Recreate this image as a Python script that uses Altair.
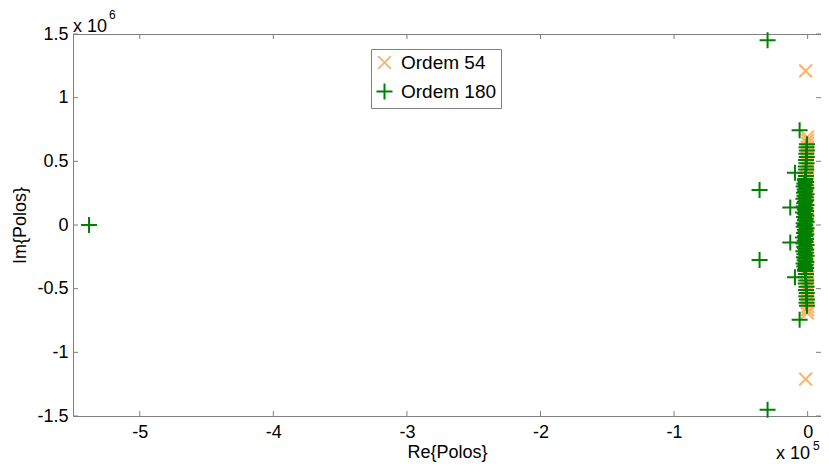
import altair as alt
import pandas as pd

# Units: real part in 1e5, imaginary part in 1e6
re54 = [-0.015, -0.002, -0.001, 0.0, -0.003, -0.001, -0.002, 0.0, -0.001, -0.003, -0.002, 0.0, -0.001,
        -0.002, -0.003, -0.001, 0.0, -0.002, -0.001, -0.003, -0.002, 0.0, -0.001, -0.002, -0.001,
        -0.015, -0.002, -0.001, 0.0, -0.003, -0.001, -0.002, 0.0, -0.001, -0.003, -0.002, 0.0, -0.001,
        -0.002, -0.003, -0.001, 0.0, -0.002, -0.001, -0.003, -0.002, 0.0, -0.001, -0.002, -0.001,
        -0.004, -0.001]
im54 = [1.21, 0.69, 0.665, 0.64, 0.612, 0.585, 0.556, 0.527, 0.498, 0.47, 0.44, 0.41, 0.38,
        0.35, 0.32, 0.29, 0.26, 0.23, 0.2, 0.17, 0.14, 0.11, 0.08, 0.05, 0.02,
        -1.21, -0.69, -0.665, -0.64, -0.612, -0.585, -0.556, -0.527, -0.498, -0.47, -0.44, -0.41, -0.38,
        -0.35, -0.32, -0.29, -0.26, -0.23, -0.2, -0.17, -0.14, -0.11, -0.08, -0.05, -0.02,
        0.0, 0.0]

re180 = [-5.38, -0.30, -0.30, -0.36, -0.36, -0.06, -0.06, -0.095, -0.095, -0.13, -0.13,
         -0.005, -0.008, -0.006, -0.01, -0.007, -0.012, -0.009, -0.014, -0.011, -0.016, -0.013, -0.018,
         -0.02, -0.012, -0.025, -0.015, -0.03, -0.01, -0.022, -0.018, -0.028, -0.008, -0.024, -0.014,
         -0.032, -0.011, -0.02, -0.026, -0.009, -0.03, -0.016, -0.022, -0.012, -0.035, -0.018, -0.01,
         -0.027, -0.015, -0.021, -0.008, -0.03, -0.02,
         -0.005, -0.008, -0.006, -0.01, -0.007, -0.012, -0.009, -0.014, -0.011, -0.016, -0.013, -0.018,
         -0.02, -0.012, -0.025, -0.015, -0.03, -0.01, -0.022, -0.018, -0.028, -0.008, -0.024, -0.014,
         -0.032, -0.011, -0.02, -0.026, -0.009, -0.03, -0.016, -0.022, -0.012, -0.035, -0.018, -0.01,
         -0.027, -0.015, -0.021, -0.008, -0.03, -0.02]
im180 = [0.0, 1.45, -1.45, 0.275, -0.275, 0.745, -0.745, 0.41, -0.41, 0.137, -0.137,
         0.635, 0.61, 0.585, 0.56, 0.535, 0.51, 0.485, 0.46, 0.435, 0.41, 0.385, 0.362,
         0.35, 0.338, 0.326, 0.314, 0.302, 0.29, 0.278, 0.266, 0.254, 0.242, 0.23, 0.218,
         0.206, 0.194, 0.182, 0.17, 0.158, 0.146, 0.134, 0.122, 0.11, 0.098, 0.086, 0.074,
         0.062, 0.05, 0.038, 0.026, 0.014, 0.003,
         -0.635, -0.61, -0.585, -0.56, -0.535, -0.51, -0.485, -0.46, -0.435, -0.41, -0.385, -0.362,
         -0.35, -0.338, -0.326, -0.314, -0.302, -0.29, -0.278, -0.266, -0.254, -0.242, -0.23, -0.218,
         -0.206, -0.194, -0.182, -0.17, -0.158, -0.146, -0.134, -0.122, -0.11, -0.098, -0.086, -0.074,
         -0.062, -0.05, -0.038, -0.026, -0.014, -0.003]

series = ["Ordem 54", "Ordem 180"]
colors = ["#FFB366", "#008000"]
x_ticks = [-5, -4, -3, -2, -1, 0]
y_ticks = [-1.5, -1, -0.5, 0, 0.5, 1, 1.5]

XPATH = "M-0.8,-0.8L0.8,0.8M-0.8,0.8L0.8,-0.8"
PLUSPATH = "M-1,0L1,0M0,-1L0,1"

df = pd.concat([
    pd.DataFrame({"re": re54, "im": im54, "s": series[0]}),
    pd.DataFrame({"re": re180, "im": im180, "s": series[1]}),
], ignore_index=True)

W, H = 748, 382
FONT = "Liberation Sans"
GRAY = "#7f7f7f"

xscale = alt.Scale(domain=[-5.5, 0.1], nice=False, zero=False)
yscale = alt.Scale(domain=[-1.5, 1.5], nice=False, zero=False)
xaxis = alt.Axis(values=x_ticks, title="Re{Polos}", labelExpr="toString(datum.value)",
                 labelPadding=7, titlePadding=2)
yaxis = alt.Axis(values=y_ticks, title="Im{Polos}", labelExpr="toString(datum.value)",
                 labelPadding=5, titlePadding=7)

points = alt.Chart(df).mark_point(filled=False, opacity=1, strokeWidth=2, size=256).encode(
    x=alt.X("re:Q", scale=xscale, axis=xaxis),
    y=alt.Y("im:Q", scale=yscale, axis=yaxis),
    color=alt.Color("s:N", scale=alt.Scale(domain=series, range=colors), title=None),
    shape=alt.Shape("s:N", scale=alt.Scale(domain=series, range=[XPATH, PLUSPATH]), title=None),
)

xt = pd.DataFrame({"re": x_ticks})
yt = pd.DataFrame({"im": y_ticks})
tick_b = alt.Chart(xt).mark_rule(color=GRAY).encode(x=alt.X("re:Q", scale=xscale, axis=xaxis),
                                                    y=alt.value(H), y2=alt.value(H - 5))
tick_t = alt.Chart(xt).mark_rule(color=GRAY).encode(x=alt.X("re:Q", scale=xscale, axis=xaxis),
                                                    y=alt.value(0), y2=alt.value(5))
tick_l = alt.Chart(yt).mark_rule(color=GRAY).encode(y=alt.Y("im:Q", scale=yscale, axis=yaxis),
                                                    x=alt.value(0), x2=alt.value(5))
tick_r = alt.Chart(yt).mark_rule(color=GRAY).encode(y=alt.Y("im:Q", scale=yscale, axis=yaxis),
                                                    x=alt.value(W), x2=alt.value(W - 5))

def txt(s, x, y, size):
    return alt.Chart(pd.DataFrame({"t": [s]})).mark_text(
        align="left", baseline="alphabetic", fontSize=size, font=FONT, color="black"
    ).encode(x=alt.value(x), y=alt.value(y), text="t:N")

texts = [txt("x 10", 0, -2, 18), txt("6", 36, -15, 12),
         txt("x 10", 703, 425, 18), txt("5", 740, 416, 12)]

chart = alt.layer(tick_b, tick_t, tick_l, tick_r, points, *texts).properties(
    width=W, height=H,
    autosize=alt.AutoSizeParams(type="none"),
    padding={"left": 65, "top": 26, "right": 0, "bottom": 47},
).configure_view(stroke=GRAY, strokeWidth=1).configure_axis(
    domain=False, ticks=False, grid=False, labelFont=FONT, labelFontSize=18, labelColor="black",
    titleFont=FONT, titleFontSize=18, titleFontWeight="normal", titleColor="black",
).configure_legend(
    orient="none", legendX=298, legendY=15, strokeColor=GRAY, fillColor="white", padding=4,
    labelFont=FONT, labelFontSize=19, labelColor="black", symbolSize=256, symbolStrokeWidth=2,
    labelOffset=7, rowPadding=6,
)

chart.save("out.html", embed_options={"renderer": "svg", "actions": False})
